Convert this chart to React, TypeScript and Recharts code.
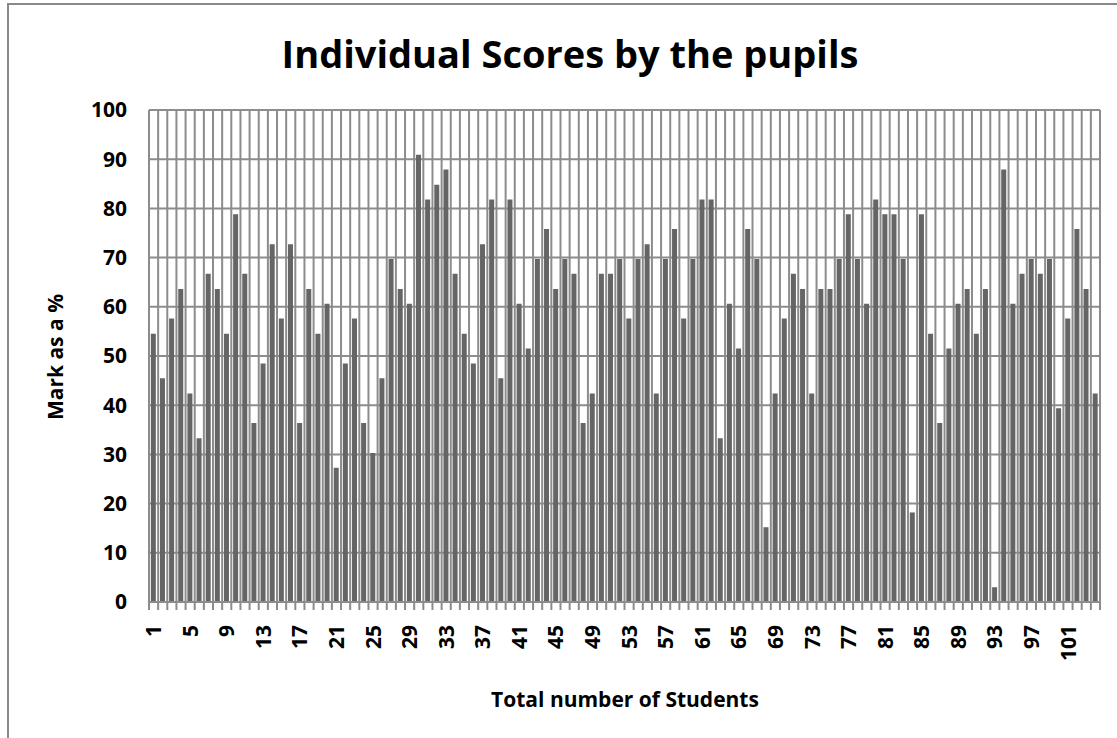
import React from "react";
import { BarChart, Bar, XAxis, YAxis, CartesianGrid } from "recharts";

const STUDENTS = [
  "1", "2", "3", "4", "5", "6", "7", "8", "9", "10", "11", "12", "13", "14", "15", "16",
  "17", "18", "19", "20", "21", "22", "23", "24", "25", "26", "27", "28", "29", "30", "31", "32",
  "33", "34", "35", "36", "37", "38", "39", "40", "41", "42", "43", "44", "45", "46", "47", "48",
  "49", "50", "51", "52", "53", "54", "55", "56", "57", "58", "59", "60", "61", "62", "63", "64",
  "65", "66", "67", "68", "69", "70", "71", "72", "73", "74", "75", "76", "77", "78", "79", "80",
  "81", "82", "83", "84", "85", "86", "87", "88", "89", "90", "91", "92", "93", "94", "95", "96",
  "97", "98", "99", "100", "101", "102", "103", "104",
];

const SCORES = [
  54.5, 45.5, 57.6, 63.6, 42.4, 33.3, 66.7, 63.6, 54.5, 78.8, 66.7, 36.4, 48.5, 72.7, 57.6, 72.7,
  36.4, 63.6, 54.5, 60.6, 27.3, 48.5, 57.6, 36.4, 30.3, 45.5, 69.7, 63.6, 60.6, 90.9, 81.8, 84.8,
  87.9, 66.7, 54.5, 48.5, 72.7, 81.8, 45.5, 81.8, 60.6, 51.5, 69.7, 75.8, 63.6, 69.7, 66.7, 36.4,
  42.4, 66.7, 66.7, 69.7, 57.6, 69.7, 72.7, 42.4, 69.7, 75.8, 57.6, 69.7, 81.8, 81.8, 33.3, 60.6,
  51.5, 75.8, 69.7, 15.2, 42.4, 57.6, 66.7, 63.6, 42.4, 63.6, 63.6, 69.7, 78.8, 69.7, 60.6, 81.8,
  78.8, 78.8, 69.7, 18.2, 78.8, 54.5, 36.4, 51.5, 60.6, 63.6, 54.5, 63.6, 3.0, 87.9, 60.6, 66.7,
  69.7, 66.7, 69.7, 39.4, 57.6, 75.8, 63.6, 42.4,
];

const X_TICK_LABELS = [
  "1", "5", "9", "13", "17", "21", "25", "29", "33", "37", "41", "45", "49",
  "53", "57", "61", "65", "69", "73", "77", "81", "85", "89", "93", "97", "101",
];

const Y_TICKS = [0, 10, 20, 30, 40, 50, 60, 70, 80, 90, 100];

const data = STUDENTS.map((s, i) => ({ student: s, score: SCORES[i] }));

const FONT = "'Open Sans', 'Noto Sans', sans-serif";
const GRID = "#8c8c8c";

function XTick(props: any) {
  const { x, y, payload, index } = props;
  const half = payload && payload.offset ? payload.offset : 951 / STUDENTS.length / 2;
  const left = x - half;
  const isLast = index === STUDENTS.length - 1;
  return (
    <g>
      <line x1={left} x2={left} y1={y} y2={y + 8} stroke={GRID} strokeWidth={2} />
      {isLast && (
        <line x1={x + half} x2={x + half} y1={y} y2={y + 8} stroke={GRID} strokeWidth={2} />
      )}
      {X_TICK_LABELS.includes(payload.value) && (
        <text
          x={x}
          y={y + 23}
          dy="0.36em"
          transform={`rotate(-90 ${x} ${y + 23})`}
          textAnchor="end"
          fontFamily={FONT}
          fontWeight={700}
          fontSize={21}
          fill="#000"
        >
          {payload.value}
        </text>
      )}
    </g>
  );
}

export default function App() {
  return (
    <div style={{ position: "absolute", left: 0, top: 0, width: 1117, height: 738, overflow: "hidden", background: "#fff" }}>
      <div
        style={{
          position: "absolute",
          left: 7,
          top: 3,
          width: 1300,
          height: 900,
          border: "2px solid #898989",
        }}
      />
      <div style={{ position: "absolute", left: 0, top: 0 }}>
        <BarChart
          width={1117}
          height={738}
          data={data}
          margin={{ top: 110, right: 17, bottom: 36, left: 89 }}
          barCategoryGap="20%"
        >
          <CartesianGrid
            stroke={GRID}
            strokeWidth={2}
            verticalCoordinatesGenerator={({ offset }: any) =>
              STUDENTS.map((_, i) => offset.left + (i * offset.width) / STUDENTS.length).concat(
                offset.left + offset.width
              )
            }
          />
          <XAxis
            dataKey="student"
            interval={0}
            tickLine={false}
            tickSize={0}
            tickMargin={0}
            height={100}
            axisLine={{ stroke: GRID, strokeWidth: 2 }}
            tick={<XTick />}
          />
          <YAxis
            domain={[0, 100]}
            ticks={Y_TICKS}
            width={60}
            axisLine={false}
            tickLine={false}
            tickSize={0}
            tickMargin={22}
            tick={{ fontFamily: FONT, fontWeight: 700, fontSize: 21, fill: "#000" }}
          />
          <Bar dataKey="score" fill="#656565" isAnimationActive={false} />
        </BarChart>
      </div>
      <svg width={1117} height={738} style={{ position: "absolute", left: 0, top: 0, pointerEvents: "none" }}>
        <text x={570} y={68} textAnchor="middle" fontFamily={FONT} fontWeight={700} fontSize={38} fill="#000">
          Individual Scores by the pupils
        </text>
        <text
          x={63}
          y={357}
          transform="rotate(-90 63 357)"
          textAnchor="middle"
          fontFamily={FONT}
          fontWeight={700}
          fontSize={21}
          fill="#000"
        >
          Mark as a %
        </text>
        <text x={625} y={707} textAnchor="middle" fontFamily={FONT} fontWeight={700} fontSize={21} fill="#000">
          Total number of Students
        </text>
      </svg>
    </div>
  );
}
